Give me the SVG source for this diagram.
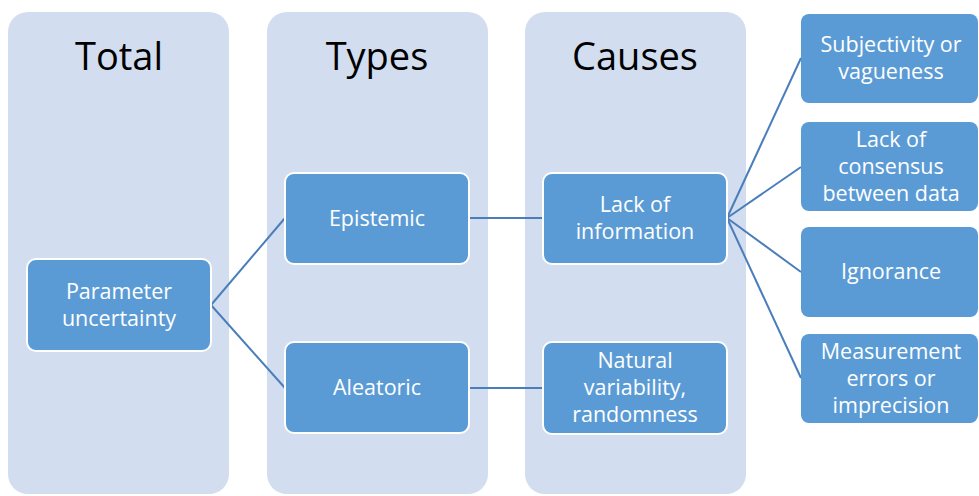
<svg xmlns="http://www.w3.org/2000/svg" width="979" height="496" viewBox="0 0 979 496">
  <style>
    .panel { fill: #d2ddef; }
    .title { font-family: "Open Sans", "Liberation Sans", sans-serif; font-size: 38px; fill: #000; text-anchor: middle; }
    .box { fill: #5b9bd5; stroke: #ffffff; stroke-width: 2; }
    .leaf { fill: #5b9bd5; }
    .lbl { font-family: "Open Sans", "Liberation Sans", sans-serif; font-size: 21.5px; fill: #ffffff; text-anchor: middle; }
    .conn { stroke: #4a7ebb; stroke-width: 2; fill: none; }
  </style>

  <!-- column backgrounds -->
  <g id="col-total">
    <rect class="panel" x="8" y="12" width="221" height="482" rx="20"/>
    <text class="title" x="119" y="70">Total</text>
  </g>
  <g id="col-types">
    <rect class="panel" x="267" y="12" width="221" height="482" rx="20"/>
    <text class="title" x="377" y="70">Types</text>
  </g>
  <g id="col-causes">
    <rect class="panel" x="525" y="12" width="221" height="482" rx="20"/>
    <text class="title" x="635" y="70">Causes</text>
  </g>

  <!-- connectors -->
  <g id="connectors">
    <path class="conn" d="M211 305 L285 218"/>
    <path class="conn" d="M211 305 L285 388"/>
    <path class="conn" d="M469 218 L543 218"/>
    <path class="conn" d="M469 388 L543 388"/>
    <path class="conn" d="M727 218 L801 58"/>
    <path class="conn" d="M727 218 L801 167"/>
    <path class="conn" d="M727 218 L801 272"/>
    <path class="conn" d="M727 218 L801 378"/>
  </g>

  <g id="parameter-uncertainty">
    <rect class="box" x="27" y="259" width="184" height="92" rx="9"/>
    <text class="lbl" x="119" y="299">Parameter</text>
    <text class="lbl" x="119" y="326">uncertainty</text>
  </g>
  <g id="epistemic">
    <rect class="box" x="285" y="173" width="184" height="91" rx="9"/>
    <text class="lbl" x="377" y="226">Epistemic</text>
  </g>
  <g id="aleatoric">
    <rect class="box" x="285" y="342" width="184" height="91" rx="9"/>
    <text class="lbl" x="377" y="395">Aleatoric</text>
  </g>
  <g id="lack-of-information">
    <rect class="box" x="543" y="173" width="184" height="91" rx="9"/>
    <text class="lbl" x="635" y="212">Lack of</text>
    <text class="lbl" x="635" y="239">information</text>
  </g>
  <g id="natural-variability">
    <rect class="box" x="543" y="342" width="184" height="92" rx="9"/>
    <text class="lbl" x="635" y="368">Natural</text>
    <text class="lbl" x="635" y="395">variability,</text>
    <text class="lbl" x="635" y="422">randomness</text>
  </g>
  <g id="subjectivity">
    <rect class="leaf" x="801" y="14" width="177" height="89" rx="8"/>
    <text class="lbl" x="891" y="52">Subjectivity or</text>
    <text class="lbl" x="891" y="79">vagueness</text>
  </g>
  <g id="lack-of-consensus">
    <rect class="leaf" x="801" y="122" width="177" height="89" rx="8"/>
    <text class="lbl" x="891" y="147">Lack of</text>
    <text class="lbl" x="891" y="174">consensus</text>
    <text class="lbl" x="891" y="201">between data</text>
  </g>
  <g id="ignorance">
    <rect class="leaf" x="801" y="227" width="177" height="90" rx="8"/>
    <text class="lbl" x="891" y="279">Ignorance</text>
  </g>
  <g id="measurement-errors">
    <rect class="leaf" x="801" y="334" width="177" height="89" rx="8"/>
    <text class="lbl" x="891" y="359">Measurement</text>
    <text class="lbl" x="891" y="386">errors or</text>
    <text class="lbl" x="891" y="413">imprecision</text>
  </g>
</svg>
